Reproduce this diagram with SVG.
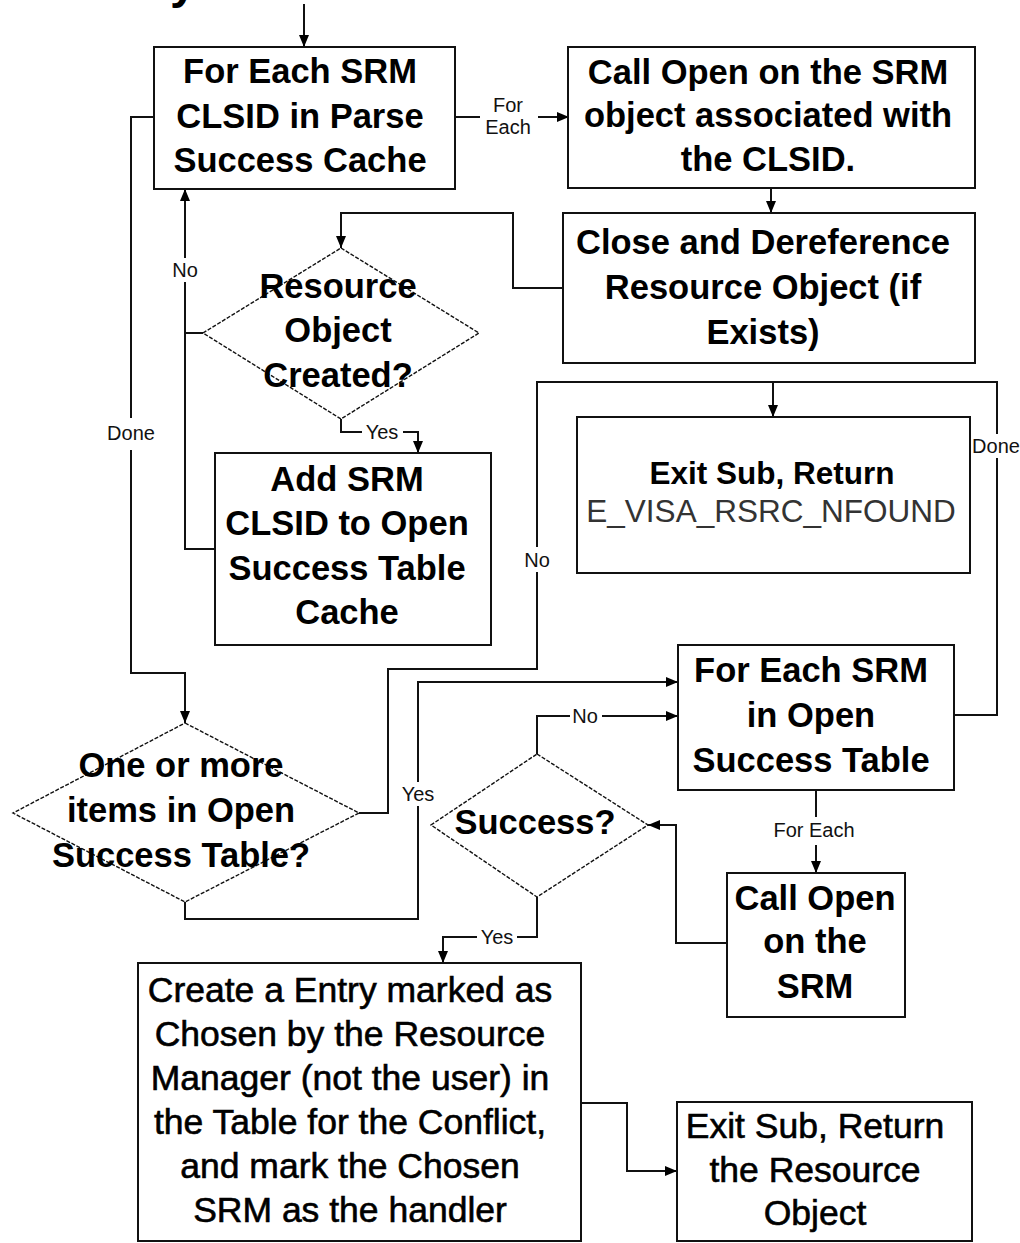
<svg xmlns="http://www.w3.org/2000/svg" width="1020" height="1243" viewBox="0 0 1020 1243">
<style>
.box{fill:#fff;stroke:#111;stroke-width:2}
.dia{fill:#fff;stroke:#111;stroke-width:1.4;stroke-dasharray:4 1.6}
.t{font-family:"Liberation Sans",Arial,sans-serif;font-size:34.5px;font-weight:bold;fill:#000;text-anchor:middle}
.n{font-family:"Liberation Sans",Arial,sans-serif;font-size:35.5px;fill:#000;stroke:#000;stroke-width:0.6;text-anchor:middle}
.lbl{font-family:"Liberation Sans",Arial,sans-serif;font-size:20px;fill:#111;text-anchor:middle}
.c{fill:none;stroke:#111;stroke-width:2}
</style>
<defs>
<marker id="ah" markerUnits="userSpaceOnUse" markerWidth="13" markerHeight="12" refX="12" refY="5" orient="auto">
<path d="M0,0 L12,5 L0,10 z" fill="#000"/>
</marker>
</defs>
<rect width="1020" height="1243" fill="#fff"/>
<text x="170" y="-2" style="font-family:'Liberation Sans',Arial,sans-serif;font-size:48px;font-weight:bold">y</text>

<g id="connectors">
<polyline class="c" points="304,4 304,47" marker-end="url(#ah)"/>
<polyline class="c" points="455,117 480,117"/>
<polyline class="c" points="538,117 569,117" marker-end="url(#ah)"/>
<text class="lbl" x="508" y="112">For</text>
<text class="lbl" x="508" y="134">Each</text>
<polyline class="c" points="771,188 771,213" marker-end="url(#ah)"/>
<polyline class="c" points="563,288 513,288 513,213 341,213 341,248" marker-end="url(#ah)"/>
<polyline class="c" points="341,419 341,432 362,432"/>
<text class="lbl" x="382" y="439">Yes</text>
<polyline class="c" points="403,432 418,432 418,453" marker-end="url(#ah)"/>
<polyline class="c" points="203,333 185,333"/>
<polyline class="c" points="215,549 185,549 185,282"/>
<text class="lbl" x="185" y="277">No</text>
<polyline class="c" points="185,258 185,189" marker-end="url(#ah)"/>
<polyline class="c" points="154,117 131,117 131,418"/>
<text class="lbl" x="131" y="440">Done</text>
<polyline class="c" points="131,450 131,673 185,673 185,723" marker-end="url(#ah)"/>
<polyline class="c" points="359,813 388,813 388,669 537,669 537,572"/>
<text class="lbl" x="537" y="567">No</text>
<polyline class="c" points="537,547 537,382 997,382 997,434"/>
<polyline class="c" points="952,715 997,715 997,458"/>
<text class="lbl" x="996" y="453">Done</text>
<polyline class="c" points="773,382 773,417" marker-end="url(#ah)"/>
<polyline class="c" points="185,902 185,919 418,919 418,806"/>
<text class="lbl" x="418" y="801">Yes</text>
<polyline class="c" points="418,782 418,682 678,682" marker-end="url(#ah)"/>
<polyline class="c" points="537,754 537,716 570,716"/>
<text class="lbl" x="585" y="723">No</text>
<polyline class="c" points="602,716 678,716" marker-end="url(#ah)"/>
<polyline class="c" points="816,790 816,817"/>
<text class="lbl" x="814" y="837">For Each</text>
<polyline class="c" points="816,845 816,873" marker-end="url(#ah)"/>
<polyline class="c" points="727,943 676,943 676,825 648,825" marker-end="url(#ah)"/>
<polyline class="c" points="537,897 537,937 517,937"/>
<text class="lbl" x="497" y="944">Yes</text>
<polyline class="c" points="477,937 443,937 443,963" marker-end="url(#ah)"/>
<polyline class="c" points="581,1103 627,1103 627,1171 677,1171" marker-end="url(#ah)"/>
</g>

<g id="boxA">
<rect class="box" x="154" y="47" width="301" height="142"/>
<text class="t" x="300" y="83">For Each SRM</text>
<text class="t" x="300" y="128">CLSID in Parse</text>
<text class="t" x="300" y="172">Success Cache</text>
</g>
<g id="boxB">
<rect class="box" x="568" y="47" width="407" height="141"/>
<text class="t" x="768" y="84">Call Open on the SRM</text>
<text class="t" x="768" y="127">object associated with</text>
<text class="t" x="768" y="171">the CLSID.</text>
</g>
<g id="boxC">
<rect class="box" x="563" y="213" width="412" height="150"/>
<text class="t" x="763" y="254">Close and Dereference</text>
<text class="t" x="763" y="299">Resource Object (if</text>
<text class="t" x="763" y="344">Exists)</text>
</g>
<g id="diamond1">
<polygon class="dia" points="341,248 479,333 341,419 203,333"/>
<text class="t" x="338" y="298">Resource</text>
<text class="t" x="338" y="342">Object</text>
<text class="t" x="338" y="387">Created?</text>
</g>
<g id="boxD">
<rect class="box" x="215" y="453" width="276" height="192"/>
<text class="t" x="347" y="491">Add SRM</text>
<text class="t" x="347" y="535">CLSID to Open</text>
<text class="t" x="347" y="580">Success Table</text>
<text class="t" x="347" y="624">Cache</text>
</g>
<g id="boxE">
<rect class="box" x="577" y="417" width="393" height="156"/>
<text class="t" x="772" y="484" style="font-size:31.5px">Exit Sub, Return</text>
<text x="771" y="522" style="font-family:'Liberation Sans',Arial,sans-serif;font-size:31.5px;fill:#333;text-anchor:middle">E_VISA_RSRC_NFOUND</text>
</g>
<g id="boxF">
<rect class="box" x="678" y="645" width="276" height="145"/>
<text class="t" x="811" y="682">For Each SRM</text>
<text class="t" x="811" y="727">in Open</text>
<text class="t" x="811" y="772">Success Table</text>
</g>
<g id="diamond2">
<polygon class="dia" points="185,723 359,813 185,902 13,813"/>
<text class="t" x="181" y="777">One or more</text>
<text class="t" x="181" y="822">items in Open</text>
<text class="t" x="181" y="867">Success Table?</text>
</g>
<g id="diamond3">
<polygon class="dia" points="537,754 648,825 537,897 431,825"/>
<text class="t" x="535" y="834">Success?</text>
</g>
<g id="boxI">
<rect class="box" x="727" y="873" width="178" height="144"/>
<text class="t" x="815" y="910">Call Open</text>
<text class="t" x="815" y="953">on the</text>
<text class="t" x="815" y="998">SRM</text>
</g>
<g id="boxG">
<rect class="box" x="138" y="963" width="443" height="278"/>
<text class="n" x="350" y="1002">Create a Entry marked as</text>
<text class="n" x="350" y="1046">Chosen by the Resource</text>
<text class="n" x="350" y="1090">Manager (not the user) in</text>
<text class="n" x="350" y="1134">the Table for the Conflict,</text>
<text class="n" x="350" y="1178">and mark the Chosen</text>
<text class="n" x="350" y="1222">SRM as the handler</text>
</g>
<g id="boxH">
<rect class="box" x="677" y="1102" width="295" height="139"/>
<text class="n" x="815" y="1138">Exit Sub, Return</text>
<text class="n" x="815" y="1182">the Resource</text>
<text class="n" x="815" y="1225">Object</text>
</g>
</svg>
